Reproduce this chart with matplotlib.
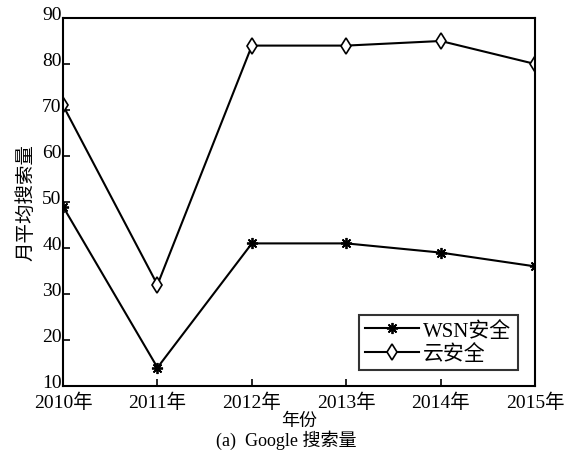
import matplotlib.pyplot as plt
import matplotlib.transforms as mtransforms

plt.rcParams['font.family'] = ['Liberation Serif', 'Noto Sans CJK SC']

# 年份与月平均搜索量
years = ["2010年", "2011年", "2012年", "2013年", "2014年", "2015年"]
wsn_vals = [49, 14, 41, 41, 39, 36]
cloud_vals = [71, 32, 84, 84, 85, 80]

fig = plt.figure(figsize=(5.73, 4.6), dpi=100)
ax = fig.add_axes([0.110, 0.1587, 0.824, 0.80])

x = range(len(years))
ax.plot(x, wsn_vals, color='black', lw=1.5, marker=(8, 2, 0), ms=8,
        mew=1.3, label='WSN安全')
ax.plot(x, cloud_vals, color='black', lw=1.5, marker='d', ms=8,
        mfc='white', mew=1.2, label='云安全')

ax.set_xlim(0, 5)
ax.set_ylim(10, 90)
ax.set_xticks(list(x))
ax.set_xticklabels(years)
ax.set_yticks(range(10, 91, 10))
ax.tick_params(direction='in', length=5, width=1.2, labelsize=14,
               top=False, right=False)
ax.tick_params(axis='x', pad=5)
ax.tick_params(axis='y', pad=1)
for s in ax.spines.values():
    s.set_linewidth(1.5)

# 纵轴刻度文字略微上移
shift = mtransforms.ScaledTranslation(0, 0.05, fig.dpi_scale_trans)
for lbl in ax.get_yticklabels():
    lbl.set_transform(lbl.get_transform() + shift)

ax.set_ylabel('月平均搜索量', fontsize=14, labelpad=5)

leg = ax.legend(loc='lower right', fontsize=15, frameon=True, fancybox=False,
                edgecolor='black', handlelength=2.6, borderpad=0.3,
                labelspacing=0.15, handletextpad=0.2,
                bbox_to_anchor=(0.985, 0.015))
leg.get_frame().set_linewidth(1.5)

# 横轴标题和子图标题
fig.text(0.522, 0.083, '年份', ha='center', va='center', fontsize=13)
fig.text(0.50, 0.044, '(a)  Google 搜索量', ha='center', va='center', fontsize=13)

fig.savefig('out.png', dpi=100)
